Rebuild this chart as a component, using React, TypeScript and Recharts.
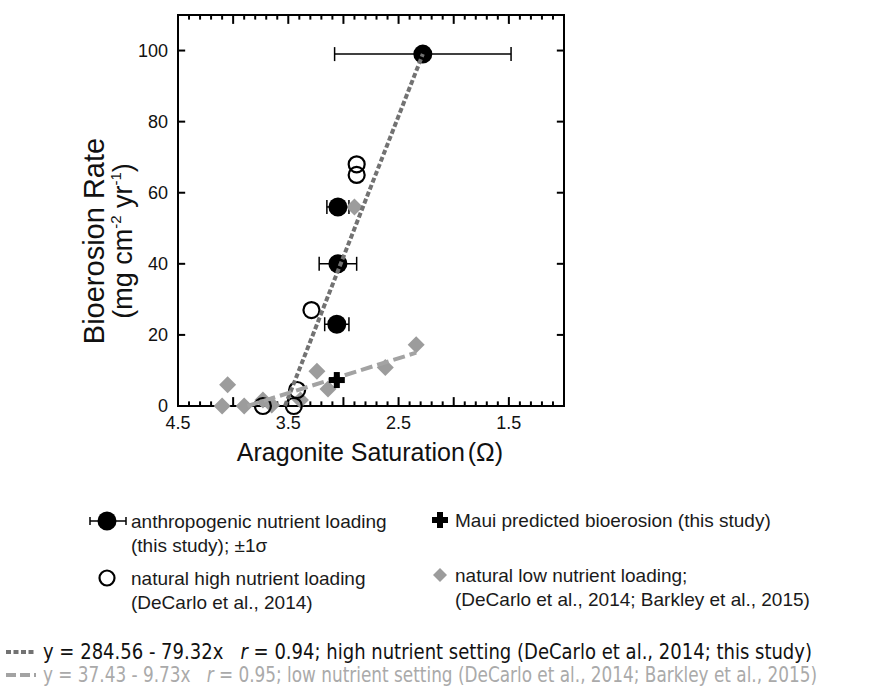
import React from "react";
import { ScatterChart, Scatter, XAxis, YAxis, ErrorBar, ReferenceArea, ReferenceLine } from "recharts";

// anthropogenic nutrient loading (this study), x error = 1 sigma
const anthropogenic = [
  { x: 2.28, y: 99, xErr: 0.8 },
  { x: 3.05, y: 56, xErr: 0.1 },
  { x: 3.05, y: 40, xErr: 0.17 },
  { x: 3.06, y: 23, xErr: 0.11 },
];

// natural high nutrient loading (DeCarlo et al., 2014)
const naturalHigh = [
  { x: 2.88, y: 68 },
  { x: 2.88, y: 65 },
  { x: 3.29, y: 27 },
  { x: 3.42, y: 4.5 },
  { x: 3.45, y: 0 },
  { x: 3.73, y: 0 },
];

// natural low nutrient loading (DeCarlo 2014; Barkley 2015)
const naturalLow = [
  { x: 4.05, y: 6 },
  { x: 4.1, y: 0 },
  { x: 3.9, y: 0 },
  { x: 3.73, y: 1.7 },
  { x: 3.65, y: 0.3 },
  { x: 3.39, y: 1.7 },
  { x: 3.24, y: 9.8 },
  { x: 3.14, y: 4.8 },
  { x: 2.9, y: 56 },
  { x: 2.62, y: 10.8 },
  { x: 2.34, y: 17.2 },
];

const mauiPredicted = [{ x: 3.06, y: 7.3 }];

// regression line end points
const highFit = [
  { x: 3.53, y: 0 },
  { x: 2.28, y: 99 },
];
const lowFit = [
  { x: 3.87, y: 0 },
  { x: 2.34, y: 15 },
];

const xLabels = [4.5, 3.5, 2.5, 1.5];
const yTicks = [0, 20, 40, 60, 80, 100];

const xTicks: number[] = [];
for (let i = 11; i <= 44; i++) xTicks.push(i / 10);

const X_MIN = 1;
const X_MAX = 4.5;
const Y_MAX = 110;

const FONT = "'Liberation Sans', Arial, sans-serif";
const HIGH_LINE = "#727272";
const LOW_LINE = "#a3a3a3";
const DIAMOND = "#9c9c9c";

const isMajor = (v: number) => Math.abs(v * 2 - Math.round(v * 2)) < 1e-6;
// tick lengths in data units (y: 110 units over the plot height, x: 3.5 units over the width)
const xTickLen = (v: number) => (isMajor(v) ? 2.5 : 1.3);
const yTickLen = 0.065;

const BottomTick = (props: any) => {
  const { x, y, payload } = props;
  const v = payload.value;
  if (!xLabels.some((l) => Math.abs(l - v) < 1e-6)) return <g />;
  return (
    <text x={x} y={y + 23} textAnchor="middle" fontFamily={FONT} fontSize={18} fill="#111">
      {v.toFixed(1)}
    </text>
  );
};

const LeftTick = (props: any) => {
  const { x, y, payload } = props;
  return (
    <text x={x - 10} y={y + 6} textAnchor="end" fontFamily={FONT} fontSize={18} fill="#111">
      {payload.value}
    </text>
  );
};

const FilledCircle = (props: any) => <circle cx={props.cx} cy={props.cy} r={9.5} fill="#000" />;
const OpenCircle = (props: any) => (
  <circle cx={props.cx} cy={props.cy} r={8} fill="none" stroke="#000" strokeWidth={2.2} />
);
const Diamond = (props: any) => {
  const { cx, cy } = props;
  const s = 8.5;
  return <path d={`M${cx},${cy - s}L${cx + s},${cy}L${cx},${cy + s}L${cx - s},${cy}Z`} fill={DIAMOND} />;
};
const Cross = (props: any) => {
  const { cx, cy } = props;
  return (
    <g fill="#000">
      <rect x={cx - 8} y={cy - 3} width={16} height={6} />
      <rect x={cx - 3} y={cy - 8} width={6} height={16} />
    </g>
  );
};
const NoDot = () => <g />;

export default function App() {
  return (
    <div style={{ position: "absolute", left: 0, top: 0, width: 875, height: 686, background: "#fff" }}>
      <ScatterChart
        width={875}
        height={686}
        margin={{ top: 15, right: 311, bottom: 250, left: 118 }}
      >
        <XAxis
          type="number"
          dataKey="x"
          domain={[X_MIN, X_MAX]}
          reversed
          ticks={xLabels}
          interval={0}
          tickSize={0}
          tickMargin={0}
          tickLine={false}
          tick={<BottomTick />}
          axisLine={{ stroke: "#000", strokeWidth: 2 }}
          height={30}
        />
        <YAxis
          type="number"
          dataKey="y"
          domain={[0, Y_MAX]}
          ticks={yTicks}
          interval={0}
          tickSize={0}
          tickMargin={0}
          tickLine={false}
          tick={<LeftTick />}
          axisLine={{ stroke: "#000", strokeWidth: 2 }}
          width={60}
        />
        <ReferenceArea x1={X_MAX} x2={X_MIN} y1={0} y2={Y_MAX} fill="none" stroke="#000" strokeWidth={2} />
        {xTicks.map((v) => (
          <ReferenceLine
            key={`b${v}`}
            segment={[{ x: v, y: 0 }, { x: v, y: xTickLen(v) }]}
            stroke="#000"
            strokeWidth={2}
          />
        ))}
        {xTicks.map((v) => (
          <ReferenceLine
            key={`t${v}`}
            segment={[{ x: v, y: Y_MAX }, { x: v, y: Y_MAX - xTickLen(v) }]}
            stroke="#000"
            strokeWidth={2}
          />
        ))}
        {yTicks.map((v) => (
          <ReferenceLine
            key={`l${v}`}
            segment={[{ x: X_MAX, y: v }, { x: X_MAX - yTickLen, y: v }]}
            stroke="#000"
            strokeWidth={2}
          />
        ))}
        {yTicks.map((v) => (
          <ReferenceLine
            key={`r${v}`}
            segment={[{ x: X_MIN, y: v }, { x: X_MIN + yTickLen, y: v }]}
            stroke="#000"
            strokeWidth={2}
          />
        ))}
        <Scatter data={naturalLow} shape={<Diamond />} isAnimationActive={false} />
        <Scatter data={naturalHigh} shape={<OpenCircle />} isAnimationActive={false} />
        <Scatter data={anthropogenic} shape={<FilledCircle />} isAnimationActive={false}>
          <ErrorBar dataKey="xErr" direction="x" width={7} stroke="#000" strokeWidth={1.5} />
        </Scatter>
        <Scatter
          data={highFit}
          shape={<NoDot />}
          line={{ stroke: HIGH_LINE, strokeWidth: 4, strokeDasharray: "5 2.5" }}
          isAnimationActive={false}
        />
        <Scatter
          data={lowFit}
          shape={<NoDot />}
          line={{ stroke: LOW_LINE, strokeWidth: 4, strokeDasharray: "12 5" }}
          isAnimationActive={false}
        />
        <Scatter data={mauiPredicted} shape={<Cross />} isAnimationActive={false} />
      </ScatterChart>

      <svg
        width={875}
        height={686}
        style={{ position: "absolute", left: 0, top: 0, pointerEvents: "none" }}
        fontFamily={FONT}
      >
        {/* axis titles */}
        <text x={370} y={461} textAnchor="middle" fontSize={25} fill="#111">
          Aragonite Saturation<tspan dx={3}>(Ω)</tspan>
        </text>
        <text transform="translate(104,241) rotate(-90)" textAnchor="middle" fontSize={29} fill="#111">
          Bioerosion Rate
        </text>
        <text transform="translate(132,241) rotate(-90)" textAnchor="middle" fontSize={27} fill="#111">
          (mg cm
          <tspan fontSize={15} dy={-11}>-2</tspan>
          <tspan dy={11}> yr</tspan>
          <tspan fontSize={15} dy={-11}>-1</tspan>
          <tspan dy={11}>)</tspan>
        </text>

        {/* legend */}
        <g fontSize={19} fill="#1a1a1a">
          <line x1={90} y1={521} x2={126} y2={521} stroke="#000" strokeWidth={1.5} />
          <line x1={90} y1={517} x2={90} y2={525} stroke="#000" strokeWidth={1.5} />
          <line x1={126} y1={517} x2={126} y2={525} stroke="#000" strokeWidth={1.5} />
          <circle cx={107} cy={521} r={9.5} fill="#000" />
          <text x={131} y={528}>anthropogenic nutrient loading</text>
          <text x={131} y={552}>(this study); ±1σ</text>

          <circle cx={107} cy={578} r={7.5} fill="none" stroke="#000" strokeWidth={2.2} />
          <text x={131} y={585}>natural high nutrient loading</text>
          <text x={131} y={609}>(DeCarlo et al., 2014)</text>

          <rect x={432} y={517} width={16} height={6} fill="#000" />
          <rect x={437} y={512} width={6} height={16} fill="#000" />
          <text x={455} y={527}>Maui predicted bioerosion (this study)</text>

          <path d="M440,568L447,575L440,582L433,575Z" fill={DIAMOND} />
          <text x={455} y={582}>natural low nutrient loading;</text>
          <text x={455} y={606}>(DeCarlo et al., 2014; Barkley et al., 2015)</text>
        </g>

        {/* regression equations */}
        <line x1={6} y1={652} x2={36} y2={652} stroke={HIGH_LINE} strokeWidth={4} strokeDasharray="5 2.5" />
        <line x1={6} y1={675} x2={36} y2={675} stroke={LOW_LINE} strokeWidth={4} strokeDasharray="10 4" />
        <g fontFamily="'Liberation Sans Narrow', 'DejaVu Sans Condensed', 'Liberation Sans', sans-serif" fontSize={21}>
          <text x={43} y={659} fill="#111" textLength={769} lengthAdjust="spacingAndGlyphs">
            y = 284.56 - 79.32x{"\u00a0\u00a0\u00a0"}
            <tspan fontStyle="italic">r</tspan> = 0.94; high nutrient setting (DeCarlo et al., 2014; this study)
          </text>
          <text x={43} y={682} fill="#aaa" textLength={774} lengthAdjust="spacingAndGlyphs">
            y = 37.43 - 9.73x{"\u00a0\u00a0\u00a0"}
            <tspan fontStyle="italic">r</tspan> = 0.95; low nutrient setting (DeCarlo et al., 2014; Barkley et al., 2015)
          </text>
        </g>
      </svg>
    </div>
  );
}
